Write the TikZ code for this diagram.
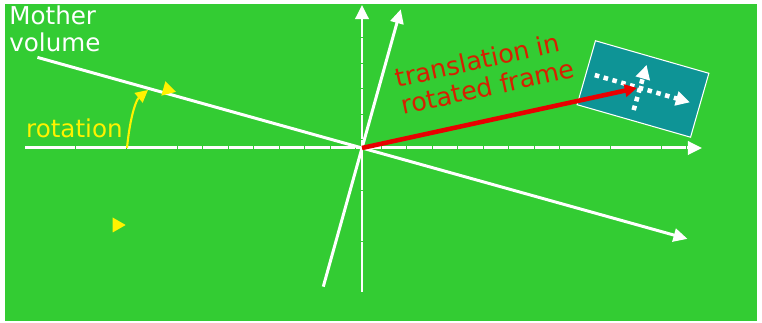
\documentclass[tikz,border=0pt]{standalone}
\usepackage{fontspec}
\setmainfont{DejaVu Sans}
\usetikzlibrary{positioning,arrows.meta,shapes.geometric}

\definecolor{bggreen}{RGB}{51,204,51}
\definecolor{volteal}{RGB}{14,148,150}
\definecolor{transred}{RGB}{232,0,0}
\definecolor{textred}{RGB}{214,32,0}

\begin{document}
\begin{tikzpicture}[x=0.02cm, y=-0.02cm,
    mother axis/.style={white, line width=1.7pt, dash pattern=on 14pt off 0.5pt, -{Triangle[length=8pt,width=7.5pt]}},
    rot axis/.style={white, line width=1.7pt, -{Triangle[length=8pt,width=7.5pt]}},
    dotted axis/.style={white, line width=2.6pt, dash pattern=on 2.6pt off 2.6pt, -{Triangle[length=8pt,width=8pt]}},
    marker/.style={isosceles triangle, isosceles triangle stretches, fill=yellow, inner sep=0pt, minimum height=0.26cm, minimum width=0.3cm},
    lbl/.style={font=\fontsize{14pt}{15.5pt}\selectfont, inner sep=0pt}]

    \fill[white] (0,0) rectangle (762,323);
    \fill[bggreen] (5,4) rectangle (757,321);
    \useasboundingbox (0,0) rectangle (762,323);

    \coordinate (o) at (362,148);

    % mother frame
    \coordinate (xl) at (25,148);
    \coordinate (xr) at (702,148);
    \coordinate (yb) at (362,292);
    \coordinate (yt) at (362,5);
    \draw[mother axis] (xl) -- (xr);
    \draw[mother axis] (yb) -- (yt);

    % rotated frame
    \begin{scope}[shift={(o)}, rotate=-15.6]
        \coordinate (ul) at (-337,0);
        \coordinate (ur) at (338,0);
        \coordinate (vb) at (0,144);
        \coordinate (vt) at (0,-144);
        \coordinate (mk) at (-203,-4);
    \end{scope}
    \draw[rot axis] (ul) -- (ur);
    \draw[rot axis] (vb) -- (vt);
    \node[marker, rotate=-15.6] (mark1) at (mk) {};
    \node[marker] (mark2) at (117,225) {};

    % daughter volume
    \node[draw=white, line width=0.6pt, fill=volteal, rotate=-16, minimum width=2.36cm, minimum height=1.33cm] (vol) at (643,89) {};
    \begin{scope}[shift={(640,88)}, rotate=-16]
        \coordinate (dl) at (-47,0);
        \coordinate (dr) at (52,0);
        \coordinate (db) at (0,23);
        \coordinate (dt) at (0,-24);
    \end{scope}
    \draw[dotted axis] (dl) -- (dr);
    \draw[dotted axis] (db) -- (dt);

    % translation
    \coordinate (te) at (637,88);
    \draw[transred, line width=2.6pt, -{Triangle[length=7pt,width=7pt]}] (o) -- (te);

    % rotation
    \coordinate (ra) at (127,148);
    \coordinate (rb) at (148,90);
    \draw[yellow, line width=1.2pt, -{Triangle[length=7pt,width=7pt]}] (ra) .. controls (130,117) and (136,100) .. (rb);

    \node[lbl, white, anchor=north west, align=left] (mother) at (9,5) {Mother\\volume};
    \node[lbl, yellow, anchor=base east] (rot) at (123,138) {rotation};
    \node[lbl, textred, font=\fontsize{14.5pt}{16pt}\selectfont, anchor=west, align=left, rotate=12.5] (trans) at (398,92) {translation in\\rotated frame};

\end{tikzpicture}
\end{document}
